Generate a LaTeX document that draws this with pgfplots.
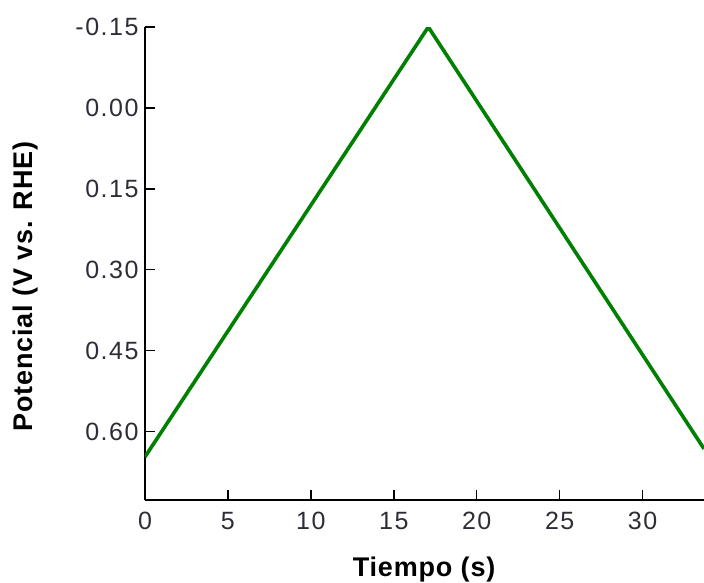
\documentclass[border=0pt]{standalone}
\usepackage{pgfplots}
\pgfplotsset{compat=1.18}
\usepackage{fontspec}
\setmainfont{Liberation Sans}
\definecolor{linegreen}{RGB}{0,128,0}
\definecolor{ticktext}{RGB}{45,45,55}
\begin{document}
\begin{tikzpicture}
\begin{axis}[
  at={(0pt,0pt)}, anchor=south west,
  scale only axis,
  width=559pt, height=473pt,
  xmin=0, xmax=33.7,
  ymin=-0.15, ymax=0.727,
  y dir=reverse,
  axis x line=bottom, axis y line=left,
  axis line style={-, line width=1.6pt, black},
  tick style={line width=1.4pt, black},
  tick align=inside,
  major tick length=10pt,
  xtick={0,5,10,15,20,25,30},
  xticklabels={0,5,10,15,20,25,30},
  ytick={-0.15,0,0.15,0.3,0.45,0.6},
  yticklabels={-0.15,0.00,0.15,0.30,0.45,0.60},
  ticklabel style={font=\fontsize{25}{29}\selectfont\addfontfeature{LetterSpace=6}, text=ticktext},
  xticklabel style={yshift=-9pt},
  yticklabel style={xshift=-3pt},
  xlabel={\textbf{Tiempo (s)}},
  ylabel={\textbf{Potencial (V vs. RHE)}},
  label style={font=\fontsize{27}{31}\selectfont\addfontfeature{LetterSpace=3}},
  xlabel style={at={(axis description cs:0.5,0)}, anchor=base, yshift=-76pt},
  ylabel style={at={(axis description cs:-0.213,0.452)}, anchor=center},
  clip=true,
]
\addplot[linegreen, line width=3.6pt, line join=miter] coordinates {
  (0,0.647) (17.08,-0.15) (33.7,0.632)
};
\end{axis}
\pgfresetboundingbox
\useasboundingbox (-145pt,-83pt) rectangle (559pt,500pt);
\end{tikzpicture}
\end{document}
